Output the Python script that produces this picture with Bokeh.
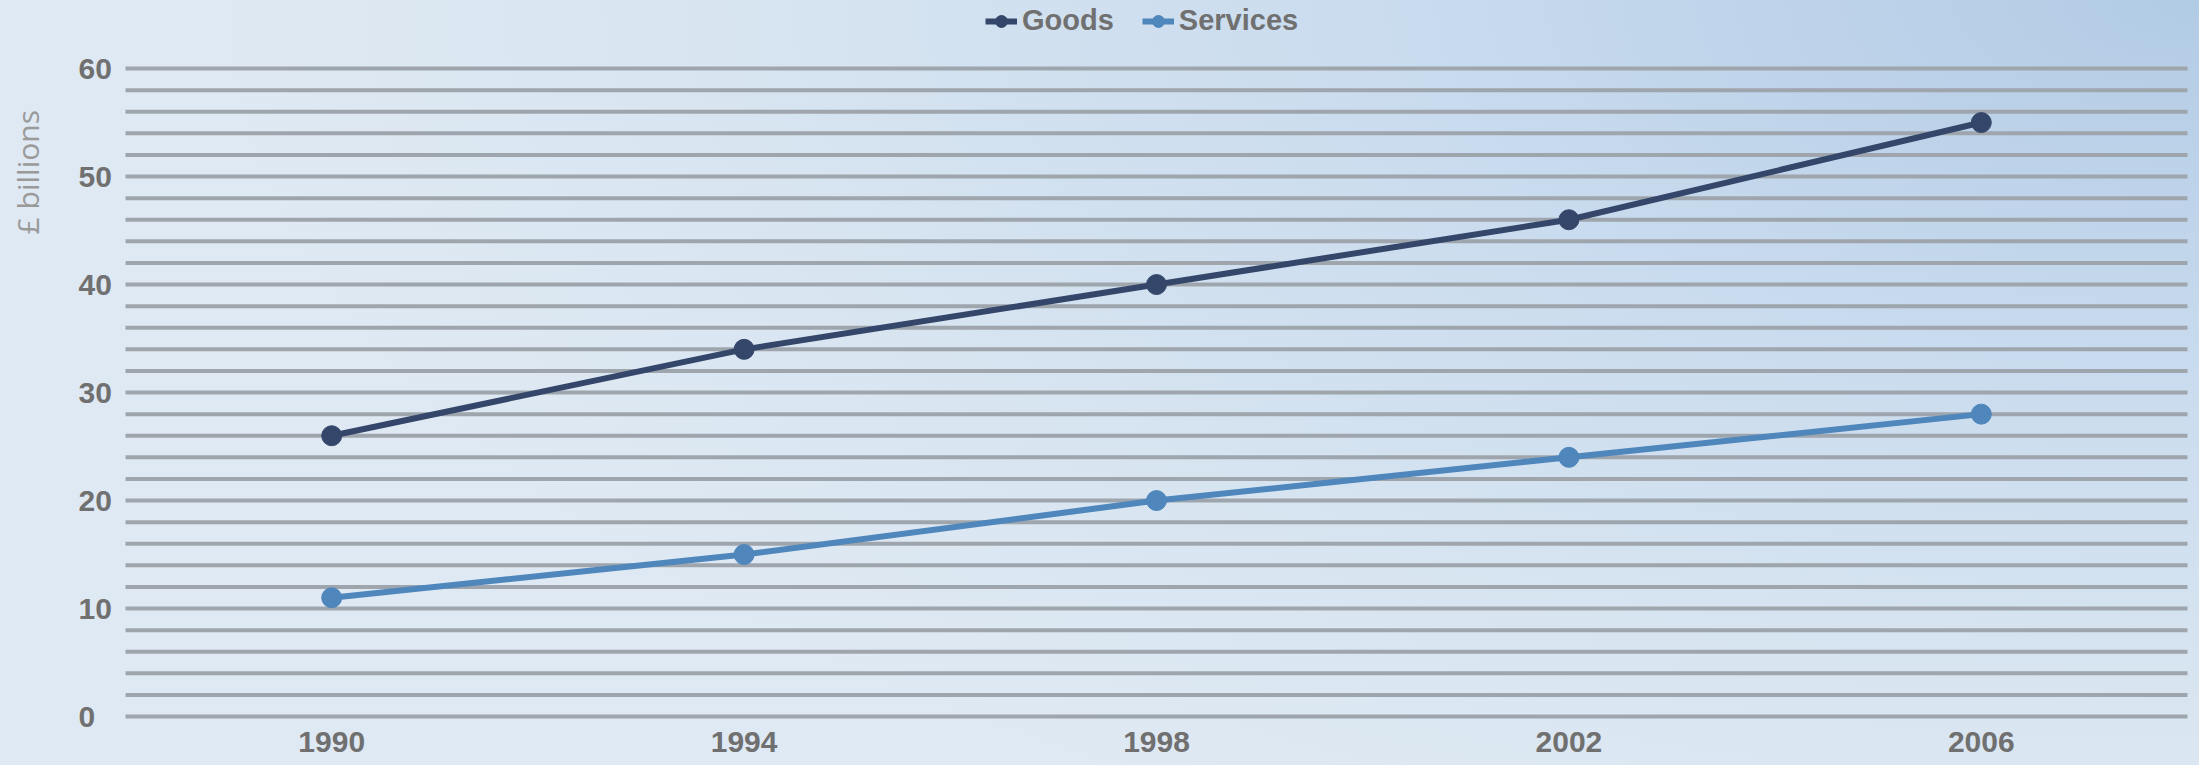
from bokeh.plotting import figure
from bokeh.models import Legend, LegendItem, Label, FixedTicker, Range1d
from bokeh.core.properties import value
from bokeh.embed import file_html
from bokeh.resources import INLINE

years = [1990, 1994, 1998, 2002, 2006]
goods = [26, 34, 40, 46, 55]
services = [11, 15, 20, 24, 28]
y_ticks = [0, 10, 20, 30, 40, 50, 60]
y_tick_labels = ["0", "10", "20", "30", "40", "50", "60"]
grid_ticks = list(range(0, 61, 2))

GOODS_C = "#34476a"
SERV_C = "#4f86bb"
TXT_C = "#707070"
GRID_C = "#9ea5ac"

W, H = 2199, 765
PLOT_L, PLOT_R = 125, 2187          # pixel extent of the plotting area
X0, X1 = 1988, 2008                 # category padding around the years
px_per_year = (PLOT_R - PLOT_L) / (X1 - X0)
FRAME_H = 729

# frame covers the whole canvas except the x-axis strip, so the legend,
# the y tick labels and the "£ billions" label live inside it
p = figure(width=W, height=H, output_backend="svg", toolbar_location=None,
           x_range=Range1d(X0 - PLOT_L / px_per_year, X1 + (W - PLOT_R) / px_per_year),
           y_range=Range1d(-1.2, 66.3),
           min_border_left=0, min_border_right=0, min_border_top=0, min_border_bottom=36)
p.styles = {"background": "radial-gradient(ellipse 90% 120% at 100% 0%, #b2cbe5 0%, #c9dbee 40%, #d8e5f1 75%, #dfe9f3 100%)"}
p.background_fill_alpha = 0
p.border_fill_alpha = 0
p.outline_line_color = None

# x axis
p.xaxis.ticker = FixedTicker(ticks=years)
ax = p.xaxis[0]
ax.axis_line_color = None
ax.major_tick_line_color = None
ax.minor_tick_line_color = None
ax.major_tick_out = 0
ax.major_tick_in = 0
ax.major_label_text_font = "Liberation Sans"
ax.major_label_text_font_style = "bold"
ax.major_label_text_font_size = "30px"
ax.major_label_text_color = TXT_C
ax.major_label_standoff = 2

# y axis drawn as text inside the frame (left-aligned labels)
p.yaxis.visible = False
p.xgrid.grid_line_color = None
p.ygrid.grid_line_color = None

p.segment(x0=[X0] * len(grid_ticks), x1=[X1] * len(grid_ticks), y0=grid_ticks, y1=grid_ticks,
          line_color=GRID_C, line_width=4)
p.text(x=[X0] * len(y_ticks), y=y_ticks, text=y_tick_labels, x_offset=-47,
       text_align="left", text_baseline="middle", text_font=value("Liberation Sans"),
       text_font_style="bold", text_font_size="30px", text_color=TXT_C)

lg = p.line(years, goods, line_color=GOODS_C, line_width=6)
sg = p.scatter(years, goods, size=20, fill_color=GOODS_C, line_color=GOODS_C)
ls = p.line(years, services, line_color=SERV_C, line_width=6)
ss = p.scatter(years, services, size=20, fill_color=SERV_C, line_color=SERV_C)

legend = Legend(items=[LegendItem(label="Goods", renderers=[lg, sg]),
                       LegendItem(label="Services", renderers=[ls, ss])],
                orientation="horizontal", location=(985, FRAME_H - 37),
                border_line_alpha=0, background_fill_alpha=0,
                label_text_font="Liberation Sans", label_text_font_style="bold",
                label_text_font_size="29px", label_text_color=TXT_C,
                glyph_width=32, glyph_height=30, spacing=28, padding=0, margin=0,
                label_standoff=5)
p.add_layout(legend, "center")

ylab = Label(x=27, y=50.4, x_units="screen", y_units="data", text="£ billions",
             angle=1.5708, text_font="Open Sans", text_font_size="30px",
             text_color="#9a9a9a", text_align="center", text_baseline="middle")
p.add_layout(ylab)

open("out.html", "w").write(file_html(p, INLINE))
